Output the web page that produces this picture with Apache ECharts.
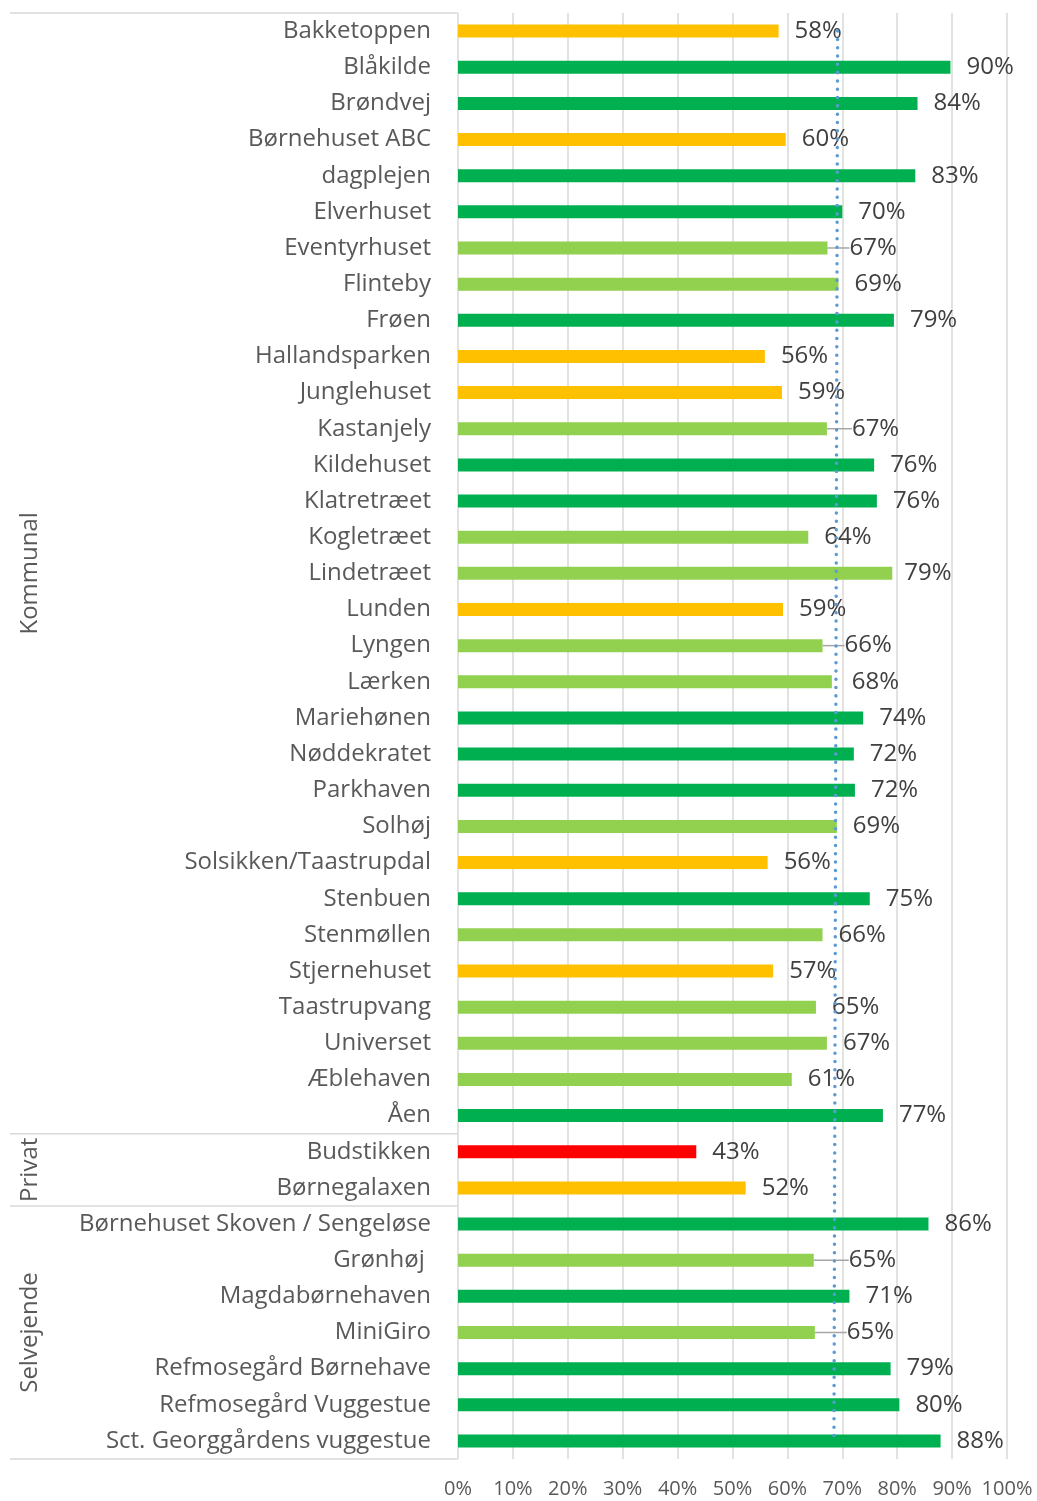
<!DOCTYPE html>
<html>
<head>
<meta charset="utf-8">
<script src="https://cdn.jsdelivr.net/npm/echarts@6/dist/echarts.min.js"></script>
<style>
  html, body { margin: 0; padding: 0; background: #fff; }
  #chart { width: 1037px; height: 1501px; }
</style>
</head>
<body>
<div id="chart"></div>
<script>
// institutioner (top -> bund)
const institutioner = [
  'Bakketoppen', 'Blåkilde', 'Brøndvej', 'Børnehuset ABC', 'dagplejen',
  'Elverhuset', 'Eventyrhuset', 'Flinteby', 'Frøen', 'Hallandsparken',
  'Junglehuset', 'Kastanjely', 'Kildehuset', 'Klatretræet', 'Kogletræet',
  'Lindetræet', 'Lunden', 'Lyngen', 'Lærken', 'Mariehønen',
  'Nøddekratet', 'Parkhaven', 'Solhøj', 'Solsikken/Taastrupdal', 'Stenbuen',
  'Stenmøllen', 'Stjernehuset', 'Taastrupvang', 'Universet', 'Æblehaven',
  'Åen',
  'Budstikken', 'Børnegalaxen',
  'Børnehuset Skoven / Sengeløse', 'Grønhøj ', 'Magdabørnehaven', 'MiniGiro',
  'Refmosegård Børnehave', 'Refmosegård Vuggestue', 'Sct. Georggårdens vuggestue'
];

// andel i procent
const andel = [
  58.4, 89.7, 83.7, 59.7, 83.3,
  70.0, 67.3, 69.3, 79.4, 55.9,
  59.0, 67.2, 75.8, 76.3, 63.8,
  79.1, 59.2, 66.4, 68.1, 73.8,
  72.1, 72.3, 69.0, 56.4, 75.0,
  66.4, 57.4, 65.2, 67.2, 60.8,
  77.4,
  43.4, 52.4,
  85.7, 64.8, 71.3, 65.0, 78.8, 80.4, 87.9
];

// niveau: 1 = rød, 2 = gul, 3 = lysegrøn, 4 = grøn
const niveau = [
  2, 4, 4, 2, 4,
  4, 3, 3, 4, 2,
  2, 3, 4, 4, 3,
  3, 2, 3, 3, 4,
  4, 4, 3, 2, 4,
  3, 2, 3, 3, 3,
  4,
  1, 2,
  4, 3, 4, 3, 4, 4, 4
];

// ejerform grupper
const grupper = ['Kommunal', 'Privat', 'Selvejende'];
const gruppeAntal = [31, 2, 7];

// gennemsnitslinje (start ved første, slut ved sidste institution)
const snitStart = 69.15;
const snitSlut = 68.48;

const xTicks = [0, 10, 20, 30, 40, 50, 60, 70, 80, 90, 100];

const niveauFarve = { 1: '#FF0000', 2: '#FFC000', 3: '#92D050', 4: '#00B050' };
// labels that Excel pushed sideways: [dx, leader line gap]
const labelSkub = {
  'Eventyrhuset': [-2, 8], 'Kastanjely': [1, 8], 'Lyngen': [-2, 8],
  'Lærken': [4, 0], 'Lindetræet': [-4, 0], 'Grønhøj ': [11, 8], 'MiniGiro': [8, 8]
};
const font = '"Open Sans", "DejaVu Sans", sans-serif';

const chart = echarts.init(document.getElementById('chart'));

chart.setOption({
  animation: false,
  grid: { left: 458, right: 30, top: 13, bottom: 42 },
  xAxis: {
    type: 'value',
    min: xTicks[0],
    max: xTicks[xTicks.length - 1],
    interval: 10,
    axisLine: { show: false },
    axisTick: { show: false },
    axisLabel: {
      formatter: '{value}%', color: '#595959', fontSize: 20, fontFamily: font, margin: 20
    },
    splitLine: { lineStyle: { color: '#D9D9D9', width: 1.5 } }
  },
  yAxis: {
    type: 'category',
    inverse: true,
    data: institutioner,
    axisLine: { show: false },
    axisTick: { show: false },
    axisLabel: { color: '#595959', fontSize: 24, fontFamily: font, margin: 27 }
  },
  series: [
    {
      type: 'bar',
      barWidth: 13,
      data: andel.map((v, i) => {
        const item = { value: v, itemStyle: { color: niveauFarve[niveau[i]] } };
        const s = labelSkub[institutioner[i]];
        if (s && s[1]) {
          item.label = { padding: [0, 0, 0, s[1]] };
          item.labelLine = { show: true };
        }
        return item;
      }),
      label: {
        show: true,
        position: 'right',
        distance: 16,
        color: '#404040',
        fontSize: 24,
        fontFamily: font,
        formatter: p => Math.round(p.value) + '%'
      },
      labelLayout: p => {
        const s = labelSkub[institutioner[p.dataIndex]];
        return s ? { dx: s[0] } : {};
      },
      labelLine: {
        show: false,
        lineStyle: { color: '#A6A6A6', width: 1.5 }
      }
    },
    {
      type: 'line',
      symbol: 'none',
      silent: true,
      data: [[snitStart, institutioner[0]], [snitSlut, institutioner[institutioner.length - 1]]],
      lineStyle: { color: '#5B9BD5', width: 3.5, type: [0.01, 8.3], cap: 'round' }
    }
  ]
});

// group frame + rotated group names on the left
const c0 = chart.convertToPixel({ yAxisIndex: 0 }, institutioner[0]);
const c1 = chart.convertToPixel({ yAxisIndex: 0 }, institutioner[1]);
const band = c1 - c0;
const axisX = chart.convertToPixel({ xAxisIndex: 0 }, 0);
const graphics = [];
let start = 0;
let yTop = c0 - band / 2;
graphics.push({ type: 'line', shape: { x1: 10, y1: yTop, x2: axisX, y2: yTop },
  style: { stroke: '#D9D9D9', lineWidth: 1.5 } });
grupper.forEach((g, gi) => {
  const end = start + gruppeAntal[gi];
  const yEnd = c0 + (end - 0.5) * band;
  const yStart = c0 + (start - 0.5) * band;
  graphics.push({ type: 'line', shape: { x1: 10, y1: yEnd, x2: axisX, y2: yEnd },
    style: { stroke: '#D9D9D9', lineWidth: 1.5 } });
  graphics.push({
    type: 'text', x: 30, y: (yStart + yEnd) / 2, rotation: Math.PI / 2,
    style: { text: g, fill: '#595959', font: '24px ' + font, align: 'center', verticalAlign: 'middle' }
  });
  start = end;
});
chart.setOption({ graphic: graphics });
</script>
</body>
</html>
